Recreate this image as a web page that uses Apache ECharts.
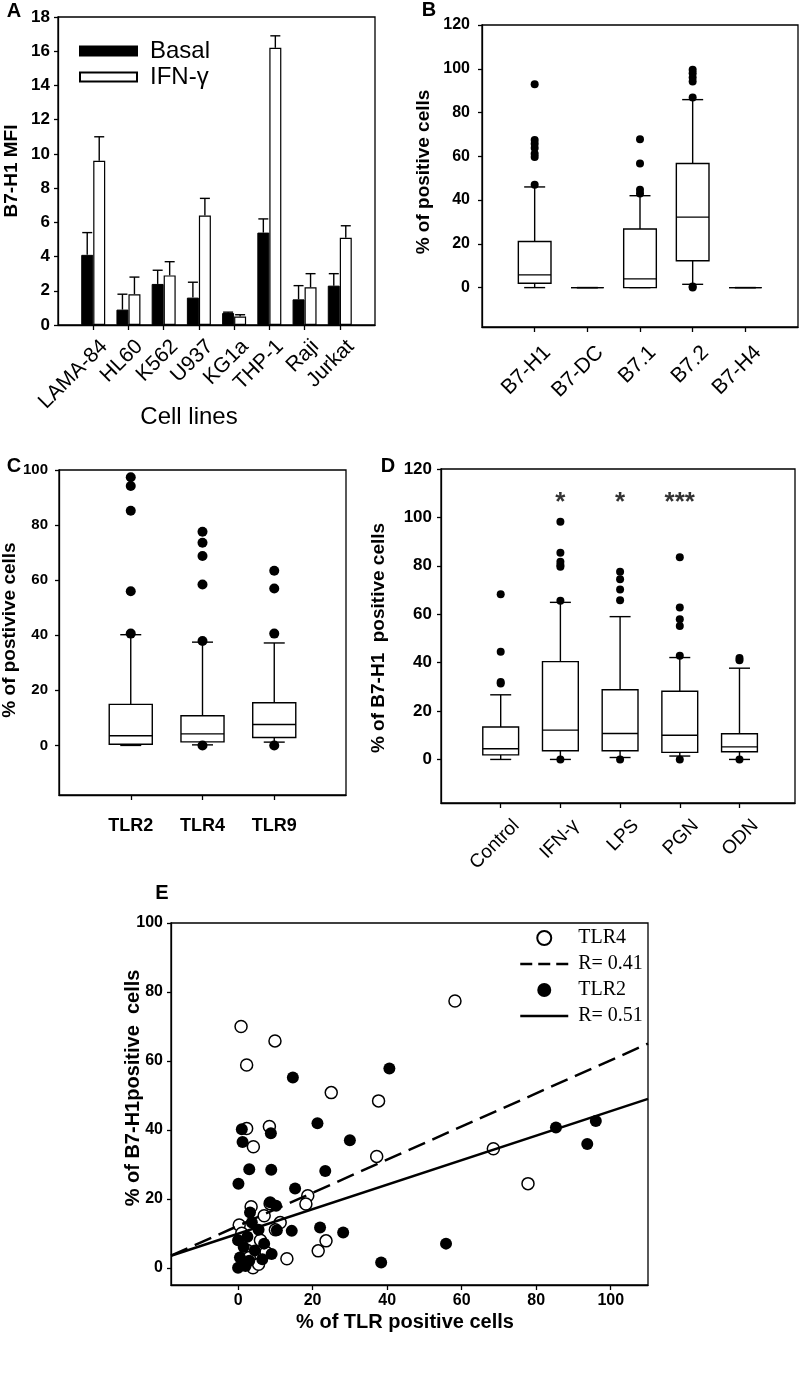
<!DOCTYPE html>
<html><head><meta charset="utf-8">
<style>html,body{margin:0;padding:0;background:#fff}#c{width:800px;height:1389px}</style>
<script src="https://cdn.jsdelivr.net/npm/echarts@6/dist/echarts.min.js"></script>
</head><body><div id="c"></div>
<script>
// ---------- Panel A ----------
const cellLines = ['LAMA-84','HL60','K562','U937','KG1a','THP-1','Raji','Jurkat'];
const basalMFI = [4.1, 0.9, 2.4, 1.6, 0.7, 5.4, 1.5, 2.3];
const basalSD  = [1.3, 0.9, 0.8, 0.9, 0.05, 0.8, 0.8, 0.7];
const ifnMFI   = [9.6, 1.8, 2.9, 6.4, 0.5, 16.2, 2.2, 5.1];
const ifnSD    = [1.4, 1.0, 0.8, 1.0, 0.1, 0.7, 0.8, 0.7];
// ---------- Panel B ----------  [lowWhisker, q1, median, q3, highWhisker]
const b7Names = ['B7-H1','B7-DC','B7.1','B7.2','B7-H4'];
const b7Box = [[0,2.0,5.8,21.1,46],[0,0,0,0,0],[0,0,4.0,26.8,42],[1.5,12.3,32.2,56.7,85.9],[0,0,0,0,0]];
const b7Out = [[47,59.7,61.2,63.8,65.7,67.5,92.9],[],[43,44.7,56.7,67.8],[0,0.5,86.9,94.2,96,98,99.5],[]];
// ---------- Panel C ----------
const tlrNames = ['TLR2','TLR4','TLR9'];
const tlrBox = [[0,0.4,3.5,14.9,40.2],[0.2,1.3,4.2,10.8,37.5],[1.2,2.9,7.6,15.5,37.2]];
const tlrOut = [[40.6,56,85.2,94.2,97.4],[0,37.9,58.4,68.8,73.6,77.6],[0,40.6,57,63.4]];
// ---------- Panel D ----------
const stimNames = ['Control','IFN-\u03b3','LPS','PGN','ODN'];
const stimBox = [[0,1.9,4.4,13.4,26.7],[0,3.6,12.1,40.4,64.9],[0.8,3.6,10.7,28.8,59],[1.4,2.9,10,28.2,42.1],[0,3.2,5.2,10.6,37.7]];
const stimOut = [[31.4,32.0,44.5,68.2],[0,65.6,79.6,80.3,81.7,85.4,98.2],[0,65.8,70.2,74.4,77.5],[0,42.8,55.1,57.9,62.8,83.5],[0,41.0,41.9]];
const stimSig = ['','*','*','***',''];
// ---------- Panel E ----------
const tlr4X = [58.2,0.8,9.9,2.3,25,37.7,2.3,8.4,4.1,37.2,68.5,77.8,18.7,18.2,3.5,7,8.6,11.3,0.3,1,2.5,4,6,7.5,10,1.5,13.1,21.5,23.6,3,5.5];
const tlr4Y = [77.4,70,65.8,58.8,50.8,48.4,40.4,41,35.1,32.3,34.5,24.4,20.9,18.5,17.7,15.1,18.6,13.1,12.4,10,5,0,8,4.5,11,2,2.6,4.9,7.8,3,1];
const tlr2X = [14.7,40.6,1,8.8,1.2,21.3,30,3,8.9,23.4,0.1,15.3,8.6,10.2,3.2,3.7,10.4,14.4,22,28.2,85.3,96,93.7,38.4,55.8,0,0.5,1.5,2.5,3,4.5,5.5,6.5,0,2,9,7];
const tlr2Y = [55.2,57.8,40.2,39,36.5,41.9,37,28.6,28.4,28.1,24.4,23,19,18,16,13.1,10.9,10.7,11.7,10.2,40.7,42.6,35.9,1.5,7,0,3,6,9,2,5,11,2.5,8,0.5,4,7];
const fitTLR4 = [[-18,3.5],[110,65]];
const fitTLR2 = [[-18,3.5],[110,49]];
const ticks100 = [0,20,40,60,80,100];
const ticks120 = [0,20,40,60,80,100,120];

const SANS = 'Liberation Sans, Arial, sans-serif';
const SERIF = 'Liberation Serif, Times New Roman, serif';
const LW = 1.3;
const idx = a => a.map((_, i) => i);
const blk = {color:'#000', width:LW};

function frameGrid(l,t,w,h){return {left:l,top:t,width:w,height:h,show:true,borderColor:'#000',borderWidth:LW,backgroundColor:'transparent',containLabel:false};}
function catX(gi, names, max, shift, lab){
  return {gridIndex:gi,type:'value',min:-1,max:max,
    axisLine:{show:true,onZero:false,lineStyle:blk},
    axisTick:{show:true,customValues:idx(names),length:5,lineStyle:blk},
    axisLabel:Object.assign({customValues:idx(names).map(v=>v+shift),formatter:v=>names[Math.round(v)],color:'#000',fontFamily:SANS},lab),
    splitLine:{show:false}};
}
function valY(gi,min,max,ticks,fs,margin){
  return {gridIndex:gi,type:'value',min:min,max:max,
    axisLine:{show:true,onZero:false,lineStyle:blk},
    axisTick:{show:true,customValues:ticks,length:4,lineStyle:blk},
    axisLabel:{customValues:ticks,fontWeight:'bold',fontSize:fs,margin:margin,color:'#000',fontFamily:SANS},
    splitLine:{show:false}};
}
function boxSeries(gi, boxes, frac){
  return {type:'custom',xAxisIndex:gi,yAxisIndex:gi,silent:true,z:2,
    data:boxes.map((b,i)=>[i].concat(b)),
    encode:{x:0,y:[1,2,3,4,5]},
    renderItem:function(params, api){
      const i = api.value(0);
      const py = v => api.coord([i, v])[1];
      const x = api.coord([i, api.value(3)])[0];
      const yLo=py(api.value(1)), yQ1=py(api.value(2)), yMed=py(api.value(3)), yQ3=py(api.value(4)), yHi=py(api.value(5));
      const bw = api.size([frac,0])[0];
      const cw = 21;
      const st = {stroke:'#000',lineWidth:1.4,fill:null};
      return {type:'group',children:[
        {type:'line',shape:{x1:x,y1:yQ3,x2:x,y2:yHi},style:st},
        {type:'line',shape:{x1:x,y1:yQ1,x2:x,y2:yLo},style:st},
        {type:'line',shape:{x1:x-cw/2,y1:yHi,x2:x+cw/2,y2:yHi},style:st},
        {type:'line',shape:{x1:x-cw/2,y1:yLo,x2:x+cw/2,y2:yLo},style:st},
        {type:'rect',shape:{x:x-bw/2,y:yQ3,width:bw,height:yQ1-yQ3},style:{fill:'#fff',stroke:'#000',lineWidth:1.4}},
        {type:'line',shape:{x1:x-bw/2,y1:yMed,x2:x+bw/2,y2:yMed},style:st}
      ]};
    }};
}
function outSeries(gi, outs, size){
  const d=[]; outs.forEach((arr,i)=>arr.forEach(v=>d.push([i,v])));
  return {type:'scatter',xAxisIndex:gi,yAxisIndex:gi,data:d,symbolSize:size,itemStyle:{color:'#000',opacity:1},z:4,silent:true};
}
function errSeries(means, sds, off){
  return {type:'custom',xAxisIndex:0,yAxisIndex:0,silent:true,z:3,
    data:means.map((m,i)=>[i,m,sds[i]]),encode:{x:0,y:1},
    renderItem:function(params, api){
      const i=api.value(0), m=api.value(1), s=api.value(2);
      const p0=api.coord([i,m]), p1=api.coord([i,m+s]);
      const x=p0[0]+off; const st={stroke:'#000',lineWidth:1.4};
      return {type:'group',children:[
        {type:'line',shape:{x1:x,y1:p0[1],x2:x,y2:p1[1]},style:st},
        {type:'line',shape:{x1:x-5,y1:p1[1],x2:x+5,y2:p1[1]},style:st}]};
    }};
}
function txt(text,x,y,size,weight,rot,family){
  return {type:'text',x:x,y:y,rotation:rot||0,silent:true,
    style:{text:text,fontSize:size,fontWeight:weight||'normal',fontFamily:family||SANS,fill:'#000',
      textAlign:'center',textVerticalAlign:'middle',align:'center',verticalAlign:'middle'}};
}

const option = {
  animation:false,
  textStyle:{fontFamily:SANS},
  grid:[
    frameGrid(58,17,317,308),
    frameGrid(482,25,316,302),
    frameGrid(59,470,287,325),
    frameGrid(441,469,354,334),
    frameGrid(171,923,477,362)
  ],
  xAxis:[
    catX(0,cellLines,8,0.1,{rotate:45,align:'right',verticalAlign:'top',margin:11,fontSize:21}),
    catX(1,b7Names,5,0.1,{rotate:45,align:'right',verticalAlign:'top',margin:15,fontSize:21}),
    catX(2,tlrNames,3,0,{fontWeight:'bold',fontSize:18,margin:22}),
    catX(3,stimNames,4.93,0.15,{rotate:45,align:'right',verticalAlign:'top',margin:13,fontSize:19}),
    {gridIndex:4,type:'value',min:-18,max:110,
      axisLine:{show:true,onZero:false,lineStyle:blk},
      axisTick:{show:true,customValues:ticks100,length:5,lineStyle:blk},
      axisLabel:{customValues:ticks100,fontWeight:'bold',fontSize:16,margin:8,color:'#000',fontFamily:SANS},
      splitLine:{show:false}}
  ],
  yAxis:[
    {gridIndex:0,type:'value',min:0,max:18,interval:2,
      axisLine:{show:true,onZero:false,lineStyle:blk},axisTick:{show:true,length:4,lineStyle:blk},
      axisLabel:{fontWeight:'bold',fontSize:17,margin:8,color:'#000',fontFamily:SANS},splitLine:{show:false}},
    valY(1,-18,120,ticks120,16,12),
    valY(2,-18,100,ticks100,15,11),
    valY(3,-18,120,ticks120,17,9),
    valY(4,-5,100,ticks100,16,8)
  ],
  legend:[
    {left:79,top:39,padding:0,orient:'vertical',itemWidth:57,itemHeight:9,itemGap:2,icon:'rect',selectedMode:false,
      data:['Basal','IFN-\u03b3'],textStyle:{fontSize:24,color:'#000',fontFamily:SANS,padding:[0,0,0,8]}},
    {left:519,top:927,padding:0,orient:'vertical',itemWidth:48,itemHeight:14,itemGap:4,selectedMode:false,
      data:['TLR4',
        {name:'R= 0.41',itemStyle:{opacity:0},lineStyle:{type:[12,6],width:2.5,color:'#000'}},
        'TLR2',
        {name:'R= 0.51',itemStyle:{opacity:0},lineStyle:{type:'solid',width:2.5,color:'#000'}}],
      textStyle:{fontSize:20,color:'#000',fontFamily:SERIF,lineHeight:22,padding:[0,0,0,5]}}
  ],
  series:[
    {name:'Basal',type:'bar',xAxisIndex:0,yAxisIndex:0,data:basalMFI.map((v,i)=>[i,v]),barWidth:12,barGap:'0%',
      itemStyle:{color:'#000',borderColor:'#000',borderWidth:1}},
    {name:'IFN-\u03b3',type:'bar',xAxisIndex:0,yAxisIndex:0,data:ifnMFI.map((v,i)=>[i,v]),barWidth:12,barGap:'0%',
      itemStyle:{color:'#fff',borderColor:'#000',borderWidth:1.2}},
    errSeries(basalMFI,basalSD,-6),
    errSeries(ifnMFI,ifnSD,6),
    boxSeries(1,b7Box,0.62), outSeries(1,b7Out,8),
    boxSeries(2,tlrBox,0.6), outSeries(2,tlrOut,10),
    boxSeries(3,stimBox,0.6), outSeries(3,stimOut,8),
    {type:'scatter',xAxisIndex:3,yAxisIndex:3,silent:true,symbolSize:1,itemStyle:{color:'transparent'},
      data:stimSig.map((s,i)=>[i,106]).filter((d,i)=>stimSig[i]),
      label:{show:true,position:'inside',formatter:p=>stimSig[p.data[0]],fontSize:26,fontWeight:'bold',color:'#000',fontFamily:SANS}},
    {name:'TLR4',type:'scatter',xAxisIndex:4,yAxisIndex:4,data:tlr4X.map((x,i)=>[x,tlr4Y[i]]),symbol:'circle',symbolSize:12,
      itemStyle:{color:'#fff',borderColor:'#000',borderWidth:1.5,opacity:1},z:3},
    {name:'TLR2',type:'scatter',xAxisIndex:4,yAxisIndex:4,data:tlr2X.map((x,i)=>[x,tlr2Y[i]]),symbol:'circle',symbolSize:12,
      itemStyle:{color:'#000',opacity:1},z:4},
    {name:'R= 0.41',type:'line',xAxisIndex:4,yAxisIndex:4,data:fitTLR4,symbol:'none',showSymbol:false,
      itemStyle:{color:'rgba(0,0,0,0)'},lineStyle:{color:'#000',width:2.5,type:[18,8]},z:5},
    {name:'R= 0.51',type:'line',xAxisIndex:4,yAxisIndex:4,data:fitTLR2,symbol:'none',showSymbol:false,
      itemStyle:{color:'rgba(0,0,0,0)'},lineStyle:{color:'#000',width:2.5},z:5}
  ],
  graphic:[
    txt('A',14,11,20,'bold'), txt('B',429,10,20,'bold'), txt('C',14,466,20,'bold'), txt('D',388,466,20,'bold'), txt('E',162,893,20,'bold'),
    txt('B7-H1 MFI',12,171,19,'bold',Math.PI/2),
    txt('Cell lines',189,417,24),
    txt('% of positive cells',424,172,19,'bold',Math.PI/2),
    txt('% of postivive cells',10,630,19,'bold',Math.PI/2),
    txt('% of B7-H1  positive cells',379,638,19,'bold',Math.PI/2),
    txt('% of B7-H1positive  cells',133,1088,20,'bold',Math.PI/2),
    txt('% of TLR positive cells',405,1322,20,'bold')
  ]
};
const chart = echarts.init(document.getElementById('c'),null,{renderer:'canvas'});
chart.setOption(option);
</script></body></html>
